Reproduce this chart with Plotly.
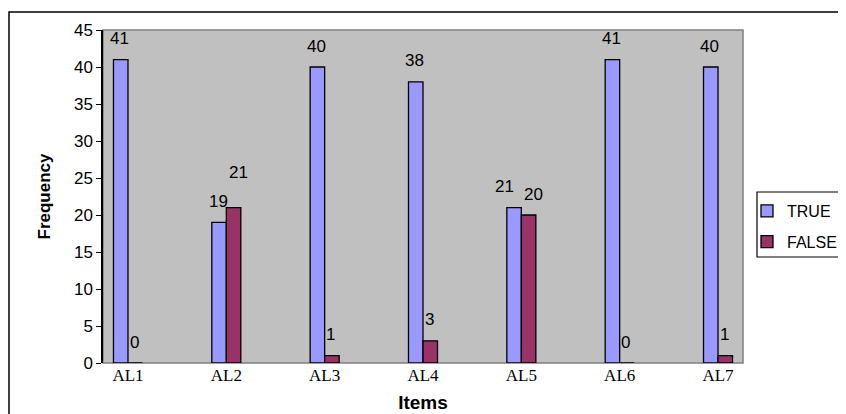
import plotly.graph_objects as go

categories = ["AL1", "AL2", "AL3", "AL4", "AL5", "AL6", "AL7"]
true_vals = [41, 19, 40, 38, 21, 41, 40]
false_vals = [0, 21, 1, 3, 20, 0, 1]
y_ticks = [0, 5, 10, 15, 20, 25, 30, 35, 40, 45]

# label nudges (pixels) to mimic the original label placement
nudges = {("FALSE", "AL2"): (6, 14), ("TRUE", "AL5"): (-9, 0), ("FALSE", "AL5"): (6, 0)}

fig = go.Figure()
series = [("TRUE", true_vals, "#9999FF"), ("FALSE", false_vals, "#993366")]
for name, vals, col in series:
    fig.add_trace(go.Bar(x=categories, y=vals, name=name, legendgroup=name,
                         marker=dict(color=col, line=dict(color="black", width=1.3))))

bar_half = 7.3
for k, (name, vals, col) in enumerate(series):
    off = -bar_half if k == 0 else bar_half
    for c, v in zip(categories, vals):
        dx, dy = nudges.get((name, c), (0, 0))
        fig.add_annotation(x=c, y=v, text=str(v), showarrow=False,
                           xshift=off + dx - 1, yshift=21 + dy, yanchor="middle",
                           font=dict(family="Liberation Sans, Arial", size=17, color="black"))

# page body adds an 8px offset; figure coords = screen coords - 8
OFF = 8
FW, FH = 846 - OFF, 414 - OFF
L, R, T, B = 103 - OFF, 743 - OFF, 30 - OFF, 363 - OFF
W, H = R - L, B - T


def px(xs):
    return (xs - OFF - L) / W


def py(ys):
    return (B - (ys - OFF)) / H


# plot area border (gray)
fig.add_shape(type="rect", xref="paper", yref="paper", x0=0, x1=1, y0=0, y1=1,
              line=dict(color="#808080", width=1.5), layer="below")
# outer chart border
fig.add_shape(type="rect", xref="paper", yref="paper",
              x0=px(9), x1=px(900), y0=py(470), y1=py(12),
              line=dict(color="black", width=1.5))
# legend frame
fig.add_shape(type="rect", xref="paper", yref="paper",
              x0=px(757), x1=px(900), y0=py(257), y1=py(192),
              line=dict(color="black", width=1.2), fillcolor="white", layer="above")

fig.update_layout(
    width=FW, height=FH,
    margin=dict(l=L, r=FW - R, t=T, b=FH - B, autoexpand=False),
    paper_bgcolor="white", plot_bgcolor="#C0C0C0",
    barmode="group", bargap=0.705, bargroupgap=0,
    font=dict(family="Liberation Sans, Arial", size=17, color="black"),
    showlegend=True,
    legend=dict(x=px(747), y=py(194), xanchor="left", yanchor="top",
                borderwidth=0, bgcolor="rgba(0,0,0,0)",
                font=dict(size=16), itemwidth=30, traceorder="grouped",
                tracegroupgap=7, entrywidth=90),
    xaxis=dict(range=[-0.254, 6.254], showgrid=False, ticks="", showline=False,
               tickfont=dict(family="Liberation Serif, Times New Roman", size=17),
               title=dict(text="<b>Items</b>", font=dict(size=19), standoff=11)),
    yaxis=dict(range=[0, 45], tickvals=y_ticks, showgrid=False, zeroline=False,
               showline=True, linecolor="black", linewidth=1.5,
               ticks="outside", ticklen=5, tickcolor="black",
               tickfont=dict(size=17),
               title=dict(text="<b>Frequency</b>", font=dict(size=17), standoff=19)),
)

fig.write_html("out.html")
